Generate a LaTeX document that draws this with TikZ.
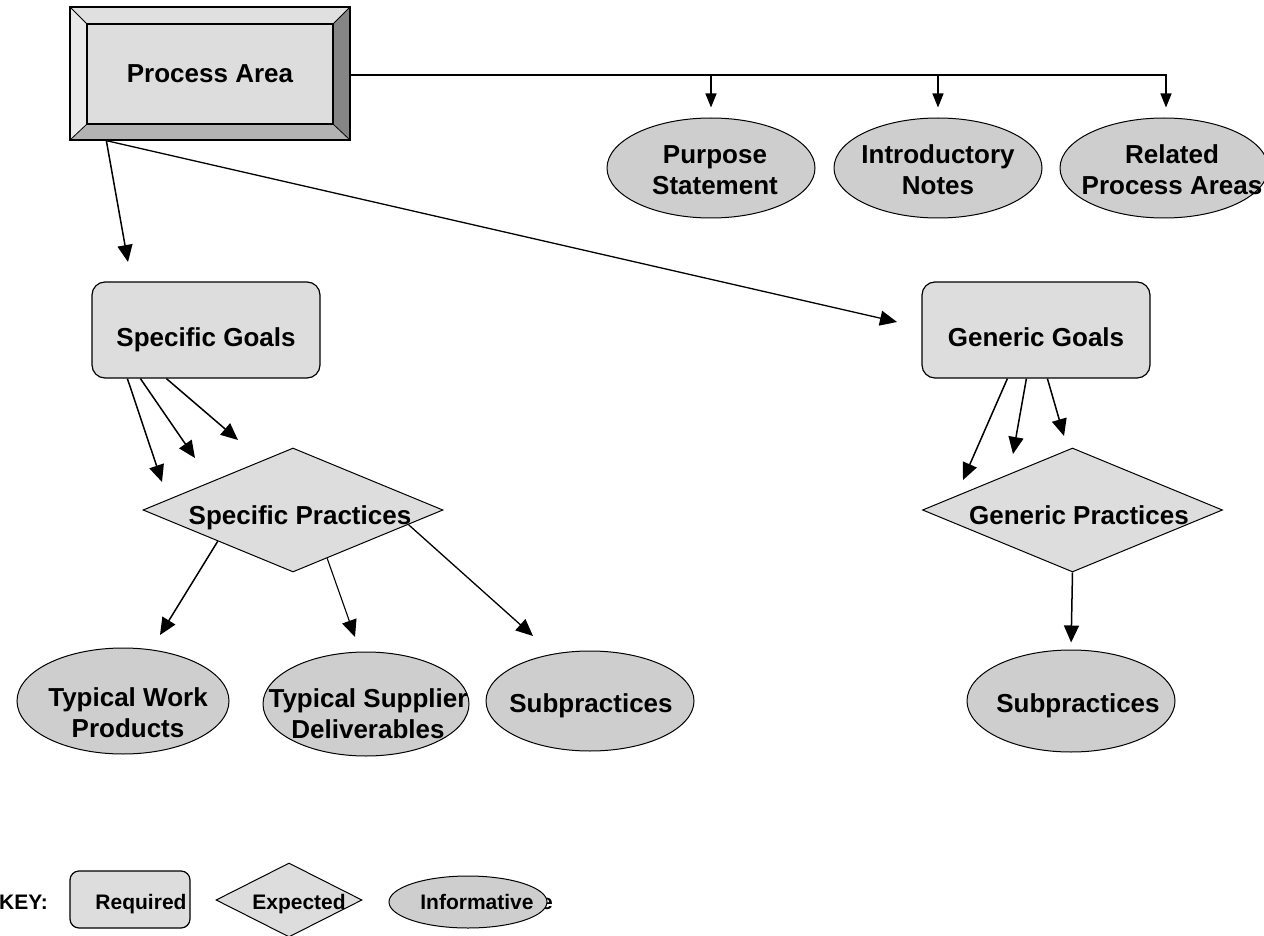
\documentclass[tikz,border=0pt]{standalone}
\usepackage{fontspec}
\setmainfont{Liberation Sans}
\usetikzlibrary{arrows.meta,shapes.geometric,calc}

\definecolor{boxgray}{RGB}{221,221,221}
\definecolor{ovalgray}{RGB}{206,206,206}
\definecolor{bevlight}{RGB}{234,234,234}
\definecolor{bevtop}{RGB}{224,224,224}
\definecolor{bevbot}{RGB}{179,179,179}
\definecolor{bevdark}{RGB}{133,133,133}

\begin{document}
\begin{tikzpicture}[x=1pt,y=-1pt,
  lbl/.style={inner sep=0pt, align=center, font=\fontsize{26}{31}\selectfont\bfseries},
  keylbl/.style={inner sep=0pt, font=\fontsize{21}{25}\selectfont\bfseries},
  reqbox/.style={draw=black, line width=1.2pt, fill=boxgray, rounded corners=13pt,
    minimum width=228pt, minimum height=96pt, inner sep=0pt},
  expdia/.style={diamond, draw=black, line width=1pt, fill=boxgray,
    minimum width=300pt, minimum height=124pt, inner sep=0pt},
  infoval/.style={ellipse, draw=black, line width=1pt, fill=ovalgray,
    minimum width=208pt, minimum height=100pt, inner sep=0pt},
  link/.style={draw=black, line width=1.5pt, -{Triangle[length=17pt,width=15pt]}},
  thinlink/.style={link, line width=1.1pt},
  drop/.style={draw=black, line width=1.3pt, -{Triangle[length=14pt,width=11pt]}},
]
\useasboundingbox (0,0) rectangle (1264,936);

% ---- bevelled "Process Area" button ----
\fill[bevtop]   (70,7) -- (350,7) -- (333,24) -- (87,24) -- cycle;
\fill[bevlight] (70,7) -- (87,24) -- (87,124) -- (70,140) -- cycle;
\fill[bevdark]  (350,7) -- (350,140) -- (333,124) -- (333,24) -- cycle;
\fill[bevbot]   (70,140) -- (350,140) -- (333,124) -- (87,124) -- cycle;
\fill[boxgray]  (87,24) rectangle (333,124);
\draw[line width=0.8pt] (70,7) -- (87,24) (350,7) -- (333,24)
  (70,140) -- (87,124) (350,140) -- (333,124);
\draw[line width=1.2pt] (87,24) rectangle (333,124);
\node[draw=black, line width=1.3pt, minimum width=280pt, minimum height=133pt,
  inner sep=0pt] (pa) at (210,73.5) {};
\node[lbl] (patext) at (210,76.8) {\strut Process Area};

% ---- informative items above ----
\node[infoval] (ps) at (711,168) {};
\node[infoval] (in) at (938,168) {};
\node[infoval] (rp) at (1164,168) {};
\node[lbl] (pstext) at (715,173.3) {\strut Purpose\\\strut Statement};
\node[lbl] (intext) at (938,173.3) {\strut Introductory\\\strut Notes};
\node[lbl] (rptext) at (1172,173.3) {\strut Related\\\strut Process Areas};

\coordinate (busend) at (1166,75);
\draw[drop, shorten >=10pt] ([yshift=-1.5pt]pa.east) -- (busend) -- (busend |- rp.north);
\draw[drop, shorten >=10pt] (ps.north |- busend) -- (ps.north);
\draw[drop, shorten >=10pt] (in.north |- busend) -- (in.north);

% ---- goals ----
\node[reqbox] (sg) at (206,330) {};
\node[lbl] (sgtext) at (206,339.8) {\strut Specific Goals};
\node[reqbox] (gg) at (1036,330) {};
\node[lbl] (ggtext) at (1036,339.8) {\strut Generic Goals};

\coordinate (tsg) at (128,262);
\coordinate (tgg) at (897,322);
\draw[link] ([xshift=37pt]pa.south west) -- (tsg);
\draw[link, line width=1.3pt] ([xshift=37pt]pa.south west) -- (tgg);

% ---- practices ----
\node[expdia] (sp) at (293,510) {};
\node[lbl] (sptext) at (300,517.8) {\strut Specific Practices};
\node[expdia] (gp) at (1072.5,510) {};
\node[lbl] (gptext) at (1079,517.8) {\strut Generic Practices};

\coordinate (ts1) at (162,482);
\coordinate (ts2) at (195,458);
\coordinate (ts3) at (238,440);
\draw[link] ([xshift=36pt]sg.south west) -- (ts1);
\draw[link] ([xshift=49pt]sg.south west) -- (ts2);
\draw[link] ([xshift=75pt]sg.south west) -- (ts3);

\coordinate (tg1) at (963,480);
\coordinate (tg2) at (1013,454);
\coordinate (tg3) at (1064,436);
\draw[link] ([xshift=86pt]gg.south west) -- (tg1);
\draw[link] ([xshift=105pt]gg.south west) -- (tg2);
\draw[link] ([xshift=126pt]gg.south west) -- (tg3);

% ---- informative items below ----
\node[infoval, minimum width=212pt, minimum height=106pt] (wp) at (123,701) {};
\node[infoval, minimum width=206pt, minimum height=104pt] (sd) at (366,704) {};
\node[infoval] (ssub) at (590,701) {};
\node[infoval, minimum height=102pt] (gsub) at (1071,701) {};
\node[lbl] (wptext) at (128,715.3) {\strut Typical Work\\\strut Products};
\node[lbl] (sdtext) at (368,716.3) {\strut Typical Supplier\\\strut Deliverables};
\node[lbl] (ssubtext) at (591,705.8) {\strut Subpractices};
\node[lbl] (gsubtext) at (1078,705.8) {\strut Subpractices};

\coordinate (tb1) at (160,635);
\coordinate (tb2) at (355,637);
\coordinate (tb3) at (533,636);
\draw[link] (sp.south west) -- (tb1);
\draw[thinlink] ($(sp.south)!0.227!(sp.east)$) -- (tb2);
\draw[link, line width=1.3pt] ($(sp.south)!0.767!(sp.east)$) -- (tb3);
\draw[link, shorten >=7pt] (gp.south) -- (gsub.north);

% ---- key ----
\node[keylbl, anchor=west] (keyhdr) at (-1,904.2) {\strut KEY:};
\node[reqbox, rounded corners=9pt, minimum width=120pt, minimum height=57pt]
  (kreq) at (130,899.5) {};
\node[keylbl] (kreqtext) at (141,904.2) {\strut Required};
\node[expdia, minimum width=146pt, minimum height=74pt] (kexp) at (289,900) {};
\node[keylbl] (kexptext) at (299,904.2) {\strut Expected};
\node[keylbl] (kghost) at (547,904.2) {\strut e};
\node[infoval, minimum width=158pt, minimum height=52pt] (kinf) at (468,902) {};
\node[keylbl] (kinftext) at (477,904.2) {\strut Informative};
\end{tikzpicture}
\end{document}
